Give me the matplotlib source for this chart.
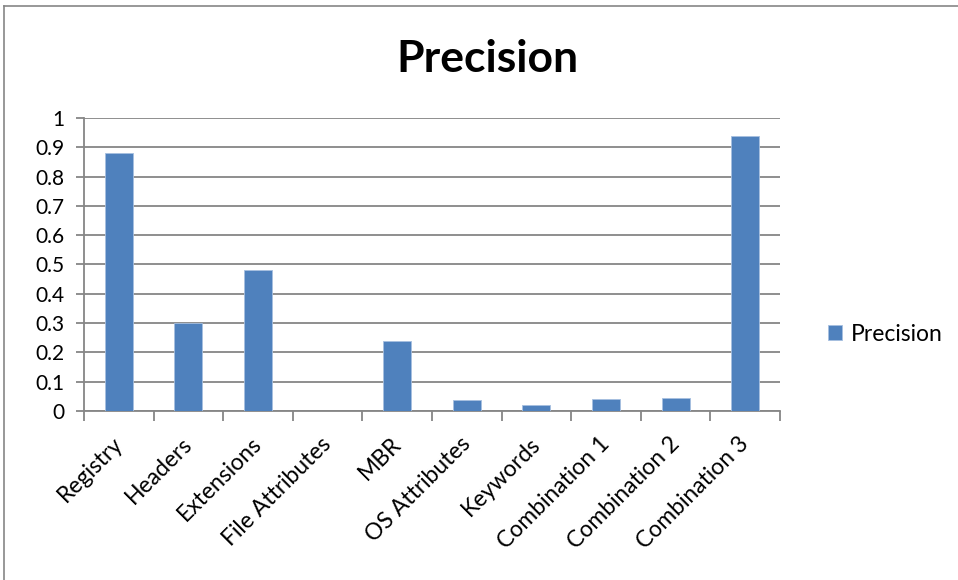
import numpy as np
import matplotlib.pyplot as plt
import matplotlib.transforms as mtransforms
from matplotlib.lines import Line2D

plt.rcParams['font.family'] = ['Lato', 'DejaVu Sans']

categories = ["Registry", "Headers", "Extensions", "File Attributes", "MBR",
              "OS Attributes", "Keywords", "Combination 1", "Combination 2", "Combination 3"]
precision = [0.88, 0.30, 0.48, 0.0, 0.24, 0.037, 0.022, 0.04, 0.043, 0.94]
yticks = [0, 0.1, 0.2, 0.3, 0.4, 0.5, 0.6, 0.7, 0.8, 0.9, 1]
yticklabels = ["0", "0.1", "0.2", "0.3", "0.4", "0.5", "0.6", "0.7", "0.8", "0.9", "1"]

bar_color = '#4f81bd'
grid_color = '#868686'

fig = plt.figure(figsize=(9.58, 5.8), dpi=100)
ax = fig.add_axes([0.0877, 0.2914, 0.7265, 0.5052])

x = np.arange(len(categories))
ax.bar(x, precision, width=0.4, color=bar_color, edgecolor='#a6bfe0', linewidth=0.6,
       label="Precision", zorder=3)

ax.set_xlim(-0.5, len(categories) - 0.5)
ax.set_ylim(0, 1)
ax.set_yticks(yticks)
ax.set_yticklabels(yticklabels)
ax.yaxis.grid(True, color=grid_color, lw=1.3, zorder=0)

# category boundary ticks on x axis
ax.set_xticks(np.arange(len(categories) + 1) - 0.5, minor=True)
ax.set_xticks(x)
ax.set_xticklabels(categories, rotation=45, ha='right', va='top', rotation_mode='anchor')
ax.tick_params(axis='x', which='major', length=0, labelsize=16.5, pad=16)
ax.tick_params(axis='x', which='minor', length=7, width=1.3, color=grid_color, direction='out')
ax.tick_params(axis='y', length=6, width=1.3, color=grid_color, direction='out', labelsize=15, pad=8)

# nudge rotated labels a little to the left
shift = mtransforms.ScaledTranslation(-7 / 100, 0, fig.dpi_scale_trans)
for lbl in ax.get_xticklabels():
    lbl.set_transform(lbl.get_transform() + shift)

for side in ['top', 'right']:
    ax.spines[side].set_visible(False)
for side in ['left', 'bottom']:
    ax.spines[side].set_color(grid_color)
    ax.spines[side].set_linewidth(1.3)

fig.text(0.509, 0.898, "Precision", ha='center', va='center', fontsize=32, fontweight='bold')

fig.legend(loc='center left', bbox_to_anchor=(0.843, 0.424), frameon=False,
           fontsize=16.5, handlelength=0.6, handleheight=0.6, handletextpad=0.4)

# outer chart border
fig.add_artist(Line2D([0.0045, 0.0045], [0, 1 - 6 / 580], transform=fig.transFigure,
                      color=grid_color, lw=1.2))
fig.add_artist(Line2D([0.0045, 1], [1 - 6 / 580, 1 - 6 / 580], transform=fig.transFigure,
                      color=grid_color, lw=1.2))

fig.savefig("out.png", dpi=100)
